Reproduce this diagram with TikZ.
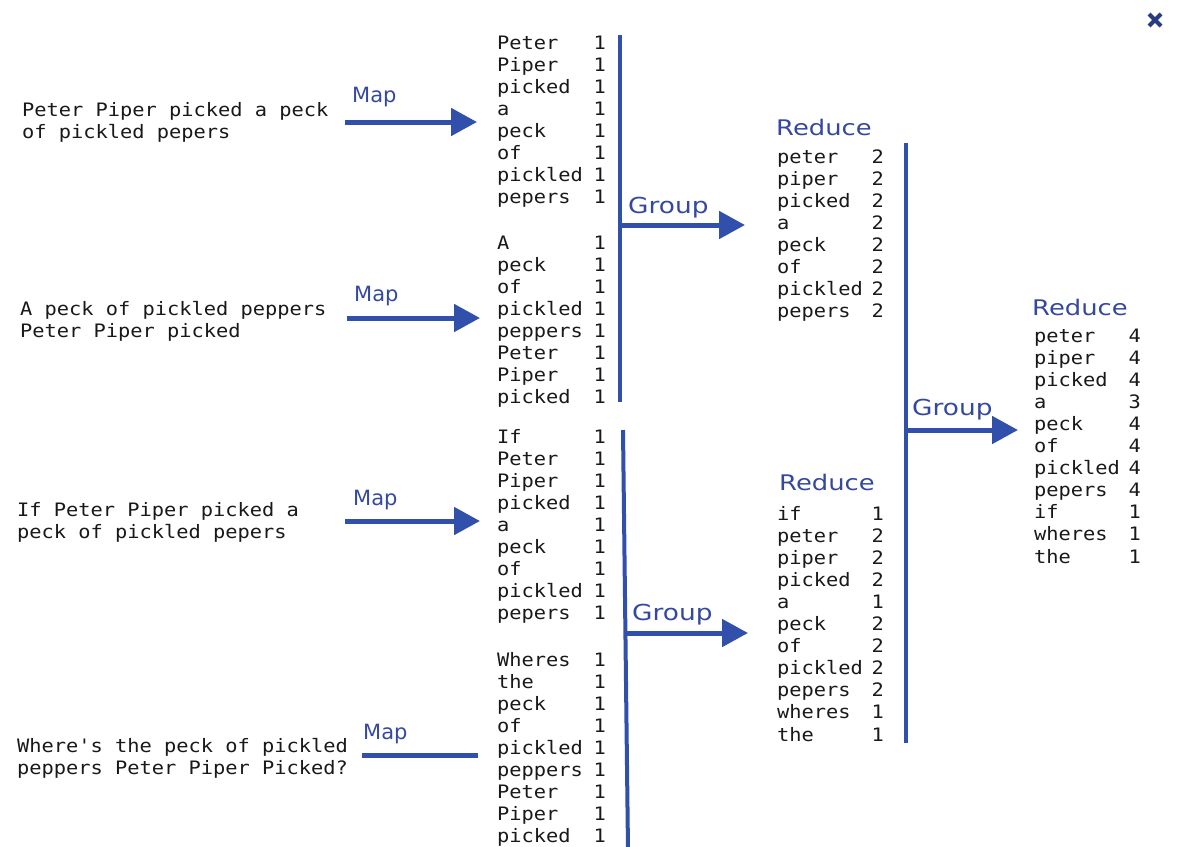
\documentclass[tikz,border=0pt]{standalone}
\usepackage{fontspec}
\usetikzlibrary{arrows.meta}
\newfontfamily\monof[FakeStretch=1.1]{DejaVu Sans Mono}
\newfontfamily\lblf{DejaVu Sans}
\newfontfamily\lblwf[FakeStretch=1.2]{DejaVu Sans}
\definecolor{lineblue}{RGB}{48,80,172}
\definecolor{textblue}{RGB}{52,72,160}
\definecolor{ink}{RGB}{25,25,25}
\definecolor{xblue}{RGB}{40,60,130}
\tikzset{
  txt/.style={font=\monof\fontsize{18.5}{22.1}\selectfont, text=ink, inner sep=0pt},
  wrd/.style={txt, align=left, anchor=base west},
  num/.style={txt, align=right, anchor=base east},
  maplbl/.style={font=\lblf\fontsize{21}{24}\selectfont, text=textblue, inner sep=0pt, anchor=base west},
  grplbl/.style={font=\lblwf\fontsize{22}{24}\selectfont, text=textblue, inner sep=0pt, anchor=base west},
  redlbl/.style={font=\lblwf\fontsize{21.5}{24}\selectfont, text=textblue, inner sep=0pt, anchor=base west},
  bar/.style={draw=lineblue, line width=4pt},
  flow/.style={draw=lineblue, line width=5pt, -{Triangle[length=26pt,width=27pt]}},
  flat/.style={draw=lineblue, line width=5pt},
}
\begin{document}
\begin{tikzpicture}[x=1pt,y=-1pt]
\useasboundingbox (0,0) rectangle (1180,846);

% input sentences (anchored at the baseline of their last line)
\node[wrd] (in1) at (22,138.1) {Peter Piper picked a peck\\of pickled pepers};
\node[wrd] (in2) at (20,337.1) {A peck of pickled peppers\\Peter Piper picked};
\node[wrd] (in3) at (17,538.1) {If Peter Piper picked a\\peck of pickled pepers};
\node[wrd] (in4) at (17,774.1) {Where's the peck of pickled\\peppers Peter Piper Picked?};

% map outputs
\node[wrd] (l1) at (497,203.7) {Peter\\Piper\\picked\\a\\peck\\of\\pickled\\pepers};
\node[num] (l1n) at (606,203.7) {1\\1\\1\\1\\1\\1\\1\\1};
\node[wrd] (l2) at (497,403.7) {A\\peck\\of\\pickled\\peppers\\Peter\\Piper\\picked};
\node[num] (l2n) at (606,403.7) {1\\1\\1\\1\\1\\1\\1\\1};
\node[wrd] (l3) at (497,619.8) {If\\Peter\\Piper\\picked\\a\\peck\\of\\pickled\\pepers};
\node[num] (l3n) at (606,619.8) {1\\1\\1\\1\\1\\1\\1\\1\\1};
\node[wrd] (l4) at (497,842.8) {Wheres\\the\\peck\\of\\pickled\\peppers\\Peter\\Piper\\picked};
\node[num] (l4n) at (606,842.8) {1\\1\\1\\1\\1\\1\\1\\1\\1};

% reduce 1
\node[redlbl] (r1t) at (776,135) {Reduce};
\node[wrd] (r1) at (777,317.7) {peter\\piper\\picked\\a\\peck\\of\\pickled\\pepers};
\node[num] (r1n) at (884,317.7) {2\\2\\2\\2\\2\\2\\2\\2};
% reduce 2
\node[redlbl] (r2t) at (779,490) {Reduce};
\node[wrd] (r2) at (777,741) {if\\peter\\piper\\picked\\a\\peck\\of\\pickled\\pepers\\wheres\\the};
\node[num] (r2n) at (884,741) {1\\2\\2\\2\\1\\2\\2\\2\\2\\1\\1};
% reduce 3
\node[redlbl] (r3t) at (1032,315) {Reduce};
\node[wrd] (r3) at (1034,563) {peter\\piper\\picked\\a\\peck\\of\\pickled\\pepers\\if\\wheres\\the};
\node[num] (r3n) at (1141,563) {4\\4\\4\\3\\4\\4\\4\\4\\1\\1\\1};

% labels
\node[maplbl] (m1) at (352,102) {Map};
\node[maplbl] (m2) at (354,301) {Map};
\node[maplbl] (m3) at (353,505) {Map};
\node[maplbl] (m4) at (363,739) {Map};
\node[grplbl] (g1) at (628,213) {Group};
\node[grplbl] (g2) at (632,620) {Group};
\node[grplbl] (g3) at (912,415) {Group};

% connector end points
\coordinate (a1s) at (345,122); \coordinate (a1e) at (477,122);
\coordinate (a2s) at (347,318); \coordinate (a2e) at (480,318);
\coordinate (a3s) at (345,521); \coordinate (a3e) at (480,521);
\coordinate (a4s) at (362,755); \coordinate (a4e) at (478,755);
\coordinate (v1t) at (620,35);  \coordinate (v1b) at (620,402);
\coordinate (v2t) at (623,430); \coordinate (v2b) at (628,850);
\coordinate (v3t) at (906,143); \coordinate (v3b) at (906,743);
\coordinate (g1s) at (620,225); \coordinate (g1e) at (745,225);
\coordinate (g2s) at (625,633); \coordinate (g2e) at (748,633);
\coordinate (g3s) at (906,430); \coordinate (g3e) at (1018,430);

\draw[flow] (a1s) -- (a1e);
\draw[flow] (a2s) -- (a2e);
\draw[flow] (a3s) -- (a3e);
\draw[flat] (a4s) -- (a4e);
\draw[bar] (v1t) -- (v1b);
\draw[bar] (v2t) -- (v2b);
\draw[bar] (v3t) -- (v3b);
\draw[flow] (g1s) -- (g1e);
\draw[flow] (g2s) -- (g2e);
\draw[flow] (g3s) -- (g3e);

% close mark
\draw[xblue, line width=4pt] (1149,14) -- (1161,26) (1161,14) -- (1149,26);
\end{tikzpicture}
\end{document}
